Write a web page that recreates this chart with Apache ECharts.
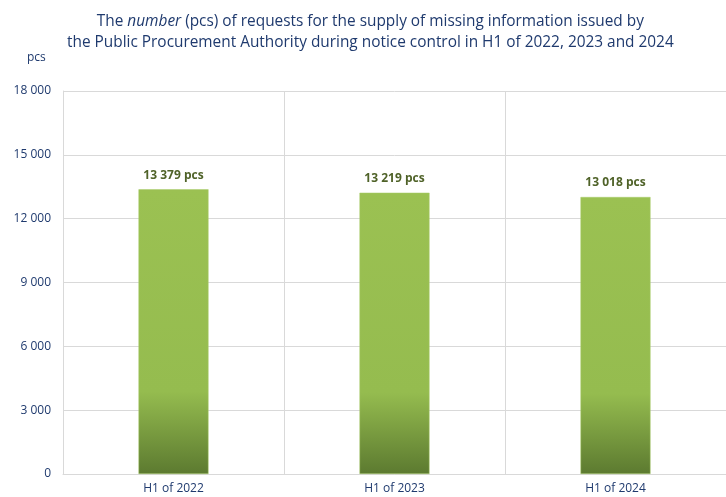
<!DOCTYPE html>
<html><head><meta charset="utf-8">
<script src="https://cdn.jsdelivr.net/npm/echarts@6/dist/echarts.min.js"></script>
<style>html,body{margin:0;padding:0;background:#fff}#c{width:726px;height:497px}</style>
</head><body><div id="c"></div>
<script>
const categories = ['H1 of 2022', 'H1 of 2023', 'H1 of 2024'];
const values = [13379, 13219, 13018];
const yTicks = [0, 3000, 6000, 9000, 12000, 15000, 18000];
const titleLine1 = ['The ', 'number', ' (pcs) of requests for the supply of missing information issued by'];
const titleLine2 = 'the Public Procurement Authority during notice control in H1 of 2022, 2023 and 2024';
const unitLabel = 'pcs';

const fmt = v => String(v).replace(/\B(?=(\d{3})+(?!\d))/g, ' ');
const FONT = 'Open Sans';
const BLUE = '#1F3A6E';

const chart = echarts.init(document.getElementById('c'));
chart.setOption({
  animation: false,
  textStyle: { fontFamily: FONT },
  title: {
    text: '{n|' + titleLine1[0] + '}{i|' + titleLine1[1] + '}{n|' + titleLine1[2] + '}\n{n|' + titleLine2 + '}',
    left: 62, top: 6,
    textStyle: {
      fontWeight: 'normal',
      rich: {
        n: { fontFamily: FONT, fontSize: 15.4, color: BLUE, lineHeight: 21, fontWeight: 'normal', align: 'center' },
        i: { fontFamily: FONT, fontSize: 15.4, color: BLUE, fontStyle: 'italic', lineHeight: 21, fontWeight: 'normal' }
      },
      align: 'center'
    }
  },
  graphic: [{ type: 'text', left: 27, top: 52, style: { text: unitLabel, fontFamily: FONT, fontSize: 12, fill: BLUE } }],
  grid: { left: 63, top: 91, width: 667, height: 383, containLabel: false },
  xAxis: {
    type: 'category', data: categories, boundaryGap: true,
    axisLine: { lineStyle: { color: '#D9D9D9', width: 1 } },
    axisTick: { show: false },
    axisLabel: { color: BLUE, fontSize: 12, margin: 9, fontFamily: FONT },
    splitLine: { show: true, lineStyle: { color: '#D9D9D9', width: 1 } }
  },
  yAxis: {
    type: 'value', min: 0, max: 18000, interval: 3000,
    axisLine: { show: true, lineStyle: { color: '#D9D9D9' } },
    axisTick: { show: false },
    axisLabel: { color: BLUE, fontSize: 12, margin: 12, fontFamily: FONT, formatter: v => yTicks.includes(v) ? fmt(v) : '' },
    splitLine: { lineStyle: { color: '#D9D9D9', width: 1 } }
  },
  series: [{
    type: 'bar', data: values, barWidth: 70,
    itemStyle: {
      color: new echarts.graphic.LinearGradient(0, 0, 0, 1, [
        { offset: 0, color: '#9BC152' },
        { offset: 0.71, color: '#95BC4F' },
        { offset: 1, color: '#5C7A30' }
      ]),
      borderColor: '#A9CC6A', borderWidth: 0.5
    },
    label: {
      show: true, position: 'top', distance: 8,
      formatter: p => fmt(p.value) + ' pcs',
      color: '#4F6228', fontWeight: 'bold', fontSize: 12, fontFamily: FONT
    }
  }]
});
</script></body></html>
